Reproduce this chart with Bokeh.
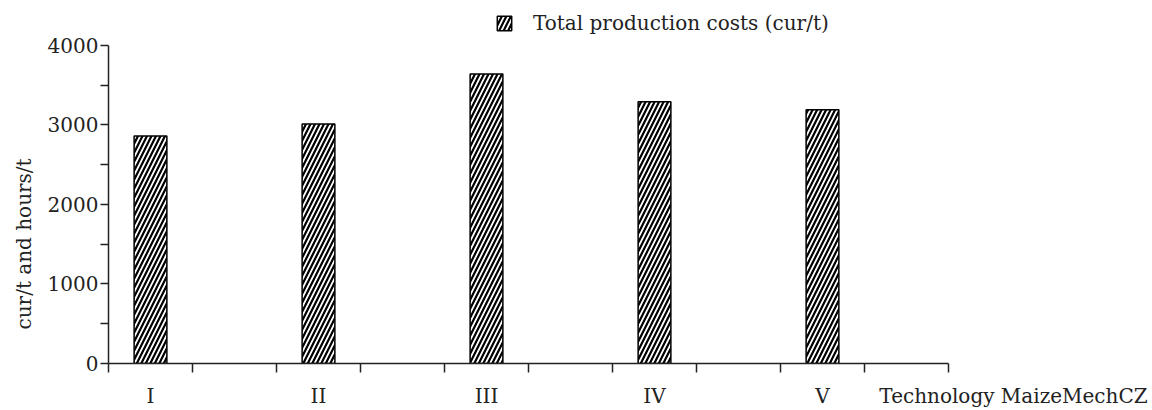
from bokeh.plotting import figure
from bokeh.models import (Range1d, FixedTicker, Legend, LegendItem, Title,
                          LinearAxis, ColumnDataSource)
from bokeh.embed import file_html
from bokeh.resources import INLINE

# ---- data ----
technologies = ["I", "II", "III", "IV", "V"]
total_costs = [2860, 3010, 3640, 3290, 3190]   # cur/t
series_name = "Total production costs (cur/t)"
y_label = "cur/t and hours/t"
x_label = "Technology MaizeMechCZ"
y_ticks = [0, 1000, 2000, 3000, 4000]
y_minor = [500, 1500, 2500, 3500]
y_max = 4000

# each technology occupies two slots (costs, hours); hours slot is empty
slots_per_tech = 2
n_slots = slots_per_tech * len(technologies)
xpos = [slots_per_tech * i + 0.5 for i in range(len(technologies))]

# ---- layout constants (pixels) ----
W, H = 1152, 410
LEFT, BOTTOM = 108, 46
SLOT_PX = 84.0          # width of one slot
AXIS_PX = 319.0         # height of 0..4000
frame_w = W - LEFT
frame_h = H - BOTTOM
x_end = frame_w / SLOT_PX
y_end = y_max * frame_h / AXIS_PX
x_title_pos = (1013 - LEFT) / SLOT_PX   # centre of the axis title text

FONT = "DejaVu Serif"
FS = "20px"
INK = "#222222"

src = ColumnDataSource(dict(x=xpos, top=total_costs, tech=technologies))

p = figure(width=W, height=H, output_backend="svg", toolbar_location=None,
           x_range=Range1d(0, x_end), y_range=Range1d(0, y_end),
           min_border_left=LEFT, min_border_right=0, min_border_top=0,
           min_border_bottom=BOTTOM)
p.outline_line_color = None
p.grid.visible = False
p.background_fill_color = "white"

bars = p.vbar(x="x", top="top", bottom=0, width=0.39, source=src,
              fill_color="white", line_color="black", line_width=1.5,
              hatch_pattern="/", hatch_color="black", hatch_scale=9,
              hatch_weight=2.2)

# x axis 1: line + boundary ticks only
xa = p.xaxis[0]
xa.bounds = (0, n_slots)
xa.ticker = FixedTicker(ticks=list(range(n_slots + 1)), minor_ticks=[])
xa.major_tick_out = 9
xa.major_tick_in = 0
xa.major_tick_line_color = INK
xa.major_tick_line_width = 1.5
xa.axis_line_color = INK
xa.axis_line_width = 1.5
xa.major_label_standoff = 0
xa.major_label_text_font_size = "0px"
xa.major_label_text_alpha = 0
xa.minor_tick_line_color = None

# x axis 2: category labels + axis title, no line / ticks
xl = LinearAxis()
xl.ticker = FixedTicker(ticks=xpos + [x_title_pos], minor_ticks=[])
xl.major_label_overrides = {**{x: t for x, t in zip(xpos, technologies)},
                            x_title_pos: x_label}
xl.axis_line_color = None
xl.major_tick_line_color = None
xl.minor_tick_line_color = None
xl.major_tick_out = 0
xl.major_tick_in = 0
xl.major_label_standoff = 11
xl.major_label_text_font = FONT
xl.major_label_text_font_size = FS
xl.major_label_text_color = INK
p.add_layout(xl, "below")

ya = p.yaxis[0]
ya.bounds = (0, y_max)
ya.ticker = FixedTicker(ticks=y_ticks, minor_ticks=y_minor)
ya.major_tick_out = 8
ya.major_tick_in = 0
ya.minor_tick_out = 8
ya.minor_tick_in = 0
ya.major_tick_line_color = INK
ya.minor_tick_line_color = INK
ya.major_tick_line_width = 1.5
ya.minor_tick_line_width = 1.5
ya.axis_line_color = INK
ya.axis_line_width = 1.5
ya.major_label_standoff = 2
ya.major_label_text_font = FONT
ya.major_label_text_font_size = FS
ya.major_label_text_color = INK

# y axis title as a side title
p.add_layout(Title(text=y_label, align="left", offset=34, standoff=17,
                   text_font=FONT, text_font_size=FS, text_color=INK,
                   text_font_style="normal"), "left")

legend = Legend(items=[LegendItem(label=series_name, renderers=[bars])],
                location=(387, 328), orientation="horizontal",
                border_line_alpha=0, background_fill_alpha=0,
                padding=0, margin=0, spacing=0,
                glyph_width=18, glyph_height=18, label_standoff=20,
                label_text_font=FONT, label_text_font_size=FS,
                label_text_color=INK)
p.add_layout(legend, "center")

open("out.html", "w").write(file_html(p, INLINE))
